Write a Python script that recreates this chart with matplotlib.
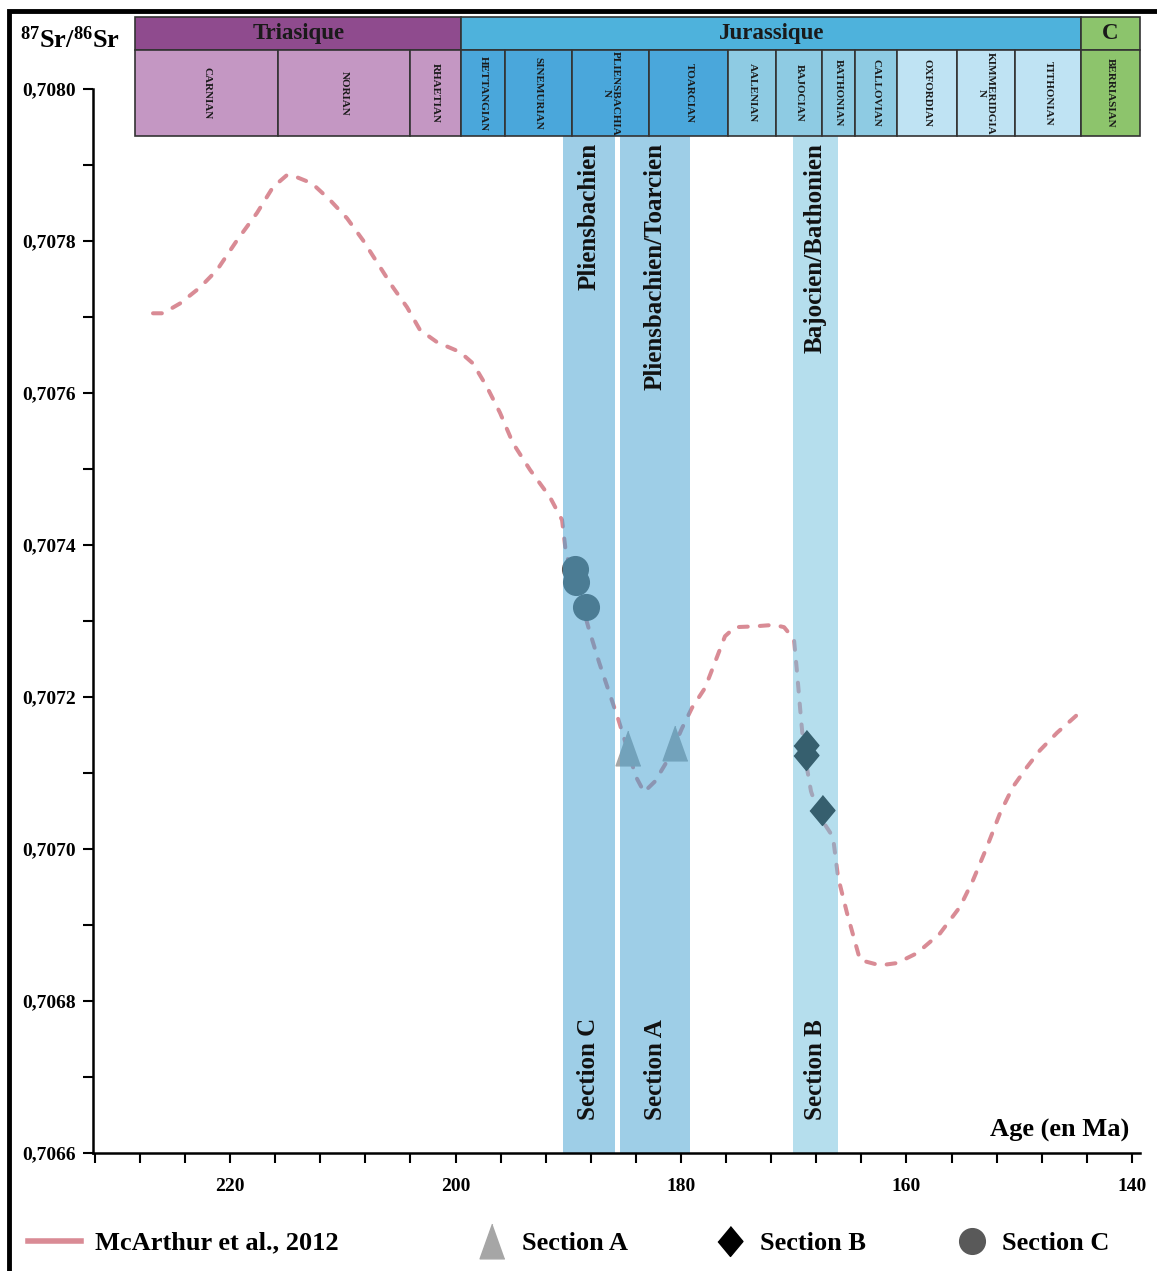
import matplotlib
matplotlib.use("Agg")
import matplotlib.pyplot as plt
import matplotlib.transforms as mtransforms
from matplotlib.lines import Line2D
from matplotlib.patches import Rectangle
from matplotlib.ticker import MultipleLocator

plt.rcParams['font.family'] = ['Liberation Serif', 'DejaVu Serif']
plt.rcParams['font.weight'] = 'bold'
plt.rcParams['mathtext.fontset'] = 'custom'
plt.rcParams['mathtext.rm'] = 'Liberation Serif:bold'
plt.rcParams['mathtext.bf'] = 'Liberation Serif:bold'
plt.rcParams['mathtext.default'] = 'bf'

# McArthur et al., 2012 reference curve (age in Ma, 87Sr/86Sr)
curve_age = [226.83, 225.94, 224.43, 222.66, 221.15, 219.38, 217.61, 216.19, 214.94, 214.06,
             212.73, 211.13, 209.62, 208.20, 206.70, 205.54, 204.30, 203.15, 201.64, 199.60,
             198.45, 197.21, 196.05, 194.90, 193.39, 191.62, 190.55, 190.20, 189.14, 188.16,
             187.27, 186.39, 185.59, 184.88, 183.99, 183.28, 182.31, 181.06, 179.91, 179.02,
             177.87, 176.98, 176.10, 175.21, 173.53, 171.75, 170.86, 169.98, 169.71, 169.36,
             169.09, 168.47, 167.67, 166.52, 166.07, 165.28, 164.12, 162.35, 160.84, 159.07,
             157.03, 155.25, 154.10, 152.86, 151.71, 150.55, 149.31, 148.16, 146.65, 144.61]
curve_sr = [0.707705, 0.707705, 0.707718, 0.707739, 0.707762, 0.707801, 0.707837, 0.707871, 0.707887, 0.707884,
            0.707876, 0.707854, 0.707830, 0.707801, 0.707766, 0.707739, 0.707713, 0.707683, 0.707667, 0.707654,
            0.707639, 0.707608, 0.707574, 0.707534, 0.707499, 0.707463, 0.707433, 0.707389, 0.707341, 0.707289,
            0.707246, 0.707207, 0.707172, 0.707138, 0.707095, 0.707075, 0.707089, 0.707120, 0.707159, 0.707186,
            0.707212, 0.707246, 0.707280, 0.707292, 0.707293, 0.707295, 0.707292, 0.707276, 0.707233, 0.707172,
            0.707129, 0.707076, 0.707042, 0.707016, 0.706963, 0.706916, 0.706854, 0.706847, 0.706850, 0.706863,
            0.706889, 0.706924, 0.706959, 0.707003, 0.707047, 0.707082, 0.707108, 0.707130, 0.707153, 0.707180]

# samples
sec_a_age = [184.70, 180.53]
sec_a_sr = [0.707133, 0.707139]
sec_b_age = [168.91, 168.88, 167.49]
sec_b_sr = [0.707137, 0.707124, 0.707051]
sec_c_age = [189.40, 189.31, 188.43]
sec_c_sr = [0.707368, 0.707351, 0.707318]

# highlighted intervals
band_names = ['Section C', 'Section A', 'Section B']
band_top_labels = ['Pliensbachien', 'Pliensbachien/Toarcien', 'Bajocien/Bathonien']
band_start = [190.47, 185.41, 170.07]
band_end = [185.85, 179.20, 166.08]
band_colors = ['#3f9fd0', '#3f9fd0', '#6dbfdd']

# chronostratigraphic chart
eras = ['Triasique', 'Jurassique', 'C']
era_start = [228.4, 199.5, 144.5]
era_end = [199.5, 144.5, 139.3]
era_colors = ['#8f4b8e', '#4eb2dc', '#8cc46c']

stages = ['CARNIAN', 'NORIAN', 'RHAETIAN', 'HETTANGIAN', 'SINEMURIAN', 'PLIENSBACHIA\nN',
          'TOARCIAN', 'AALENIAN', 'BAJOCIAN', 'BATHONIAN', 'CALLOVIAN', 'OXFORDIAN',
          'KIMMERIDGIA\nN', 'TITHONIAN', 'BERRIASIAN']
stage_bounds = [228.4, 215.7, 204.0, 199.5, 195.6, 189.7, 182.8, 175.8, 171.6, 167.5,
                164.6, 160.8, 155.5, 150.4, 144.5, 139.3]
stage_colors = ['#c497c3', '#c497c3', '#c497c3',
                '#4aa7db', '#4aa7db', '#4aa7db', '#4aa7db',
                '#8ecbe3', '#8ecbe3', '#8ecbe3', '#8ecbe3',
                '#bfe3f3', '#bfe3f3', '#bfe3f3',
                '#8dc46c']

yticks = [0.7066, 0.7068, 0.7070, 0.7072, 0.7074, 0.7076, 0.7078, 0.7080]
ytick_labels = ['0,7066', '0,7068', '0,7070', '0,7072', '0,7074', '0,7076', '0,7078', '0,7080']
xticks = [220, 200, 180, 160, 140]

# custom marker shapes (taller than wide)
tri = [(0, 0.5), (-0.357, -0.5), (0.357, -0.5)]
dia = [(0, 0.6), (0.5, 0), (0, -0.6), (-0.5, 0)]

fig = plt.figure(figsize=(11.57, 12.71), dpi=100)
ax = fig.add_axes([0.0804, 0.0928, 0.9049, 0.8371])

# curve and samples
line_color = '#d98b95'
ax.plot(curve_age, curve_sr, color=line_color, lw=2.9, ls=(0, (2.2, 3.0)),
        dash_capstyle='round', zorder=2)
ax.plot(sec_a_age, sec_a_sr, ls='none', marker=tri, ms=25, color='#a6a6a6', zorder=3)
ax.plot(sec_b_age, sec_b_sr, ls='none', marker=dia, ms=21.5, color='#000000', zorder=3)
ax.plot(sec_c_age, sec_c_sr, ls='none', marker='o', ms=18.5, color='#595959', zorder=3)

# translucent bands on top of the data
trans = mtransforms.blended_transform_factory(ax.transData, ax.transAxes)
for s, e, c, top, name in zip(band_start, band_end, band_colors, band_top_labels, band_names):
    ax.axvspan(s, e, color=c, alpha=0.5, lw=0, zorder=4)
    mid = (s + e) / 2
    ax.text(mid, 0.949, top, rotation=90, ha='center', va='top', fontsize=18,
            transform=trans, zorder=5, color='#111111')
    ax.text(mid, 0.031, name, rotation=90, ha='center', va='bottom', fontsize=18,
            transform=trans, zorder=5, color='#111111')

# stratigraphic bar above the plot
era_y0, era_y1 = 1.0367, 1.0677
stage_y0, stage_y1 = 0.9558, 1.0367
for name, s, e, c in zip(eras, era_start, era_end, era_colors):
    ax.add_patch(Rectangle((s, era_y0), e - s, era_y1 - era_y0, transform=trans,
                           facecolor=c, edgecolor='#333333', lw=1.2, clip_on=False, zorder=6))
    ax.text((s + e) / 2, (era_y0 + era_y1) / 2, name, transform=trans, ha='center',
            va='center', fontsize=16.5, color='#1a1a1a', clip_on=False, zorder=7)
for i, name in enumerate(stages):
    s, e = stage_bounds[i], stage_bounds[i + 1]
    ax.add_patch(Rectangle((s, stage_y0), e - s, stage_y1 - stage_y0, transform=trans,
                           facecolor=stage_colors[i], edgecolor='#333333', lw=1.2,
                           clip_on=False, zorder=6))
    ax.text((s + e) / 2, (stage_y0 + stage_y1) / 2, name, transform=trans, rotation=-90,
            ha='center', va='center', fontsize=8, linespacing=1.0, color='#1a1a1a',
            clip_on=False, zorder=7)

# axes
ax.set_xlim(232.15, 139.29)
ax.set_ylim(0.7066, 0.7080)
ax.set_xticks(xticks)
ax.xaxis.set_minor_locator(MultipleLocator(4))
ax.set_yticks(yticks)
ax.set_yticklabels(ytick_labels)
ax.yaxis.set_minor_locator(MultipleLocator(0.0001))
ax.tick_params(axis='both', which='both', direction='out', length=7, width=1.5, labelsize=14)
ax.tick_params(axis='x', which='both', pad=11)
ax.tick_params(axis='y', which='both', pad=5)
for side in ['top', 'right']:
    ax.spines[side].set_visible(False)
for side in ['left', 'bottom']:
    ax.spines[side].set_linewidth(1.8)
    ax.spines[side].set_zorder(10)

ax.text(0.990, 0.0216, 'Age (en Ma)', transform=ax.transAxes, ha='right', va='center',
        fontsize=19, zorder=8)
fig.text(20 / 1157, 1 - 40 / 1271, r'$^{87}$Sr/$^{86}$Sr', fontsize=19, ha='left', va='center')

# legend, one entry at a time so spacing follows the original
leg_handles = [Line2D([], [], color=line_color, lw=4),
               Line2D([], [], ls='none', marker=tri, ms=25, color='#a6a6a6'),
               Line2D([], [], ls='none', marker=dia, ms=21.5, color='#000000'),
               Line2D([], [], ls='none', marker='o', ms=18.5, color='#595959')]
leg_labels = ['McArthur et al., 2012', 'Section A', 'Section B', 'Section C']
leg_x = [0.0242, 0.4115, 0.6172, 0.8263]
leg_hlen = [2.0, 1.2, 1.2, 1.2]
for h, lab, x, hl in zip(leg_handles, leg_labels, leg_x, leg_hlen):
    fig.legend(handles=[h], labels=[lab], loc='center left', bbox_to_anchor=(x, 0.022),
               frameon=False, fontsize=19, handlelength=hl, handletextpad=0.55,
               borderpad=0, borderaxespad=0)

# outer frame (left and top edges visible)
fig.patches.append(Rectangle((0.0082, -0.05), 1.2, 1.0413, transform=fig.transFigure,
                             fill=False, lw=3.5, edgecolor='black'))

fig.savefig('out.png', dpi=100)
